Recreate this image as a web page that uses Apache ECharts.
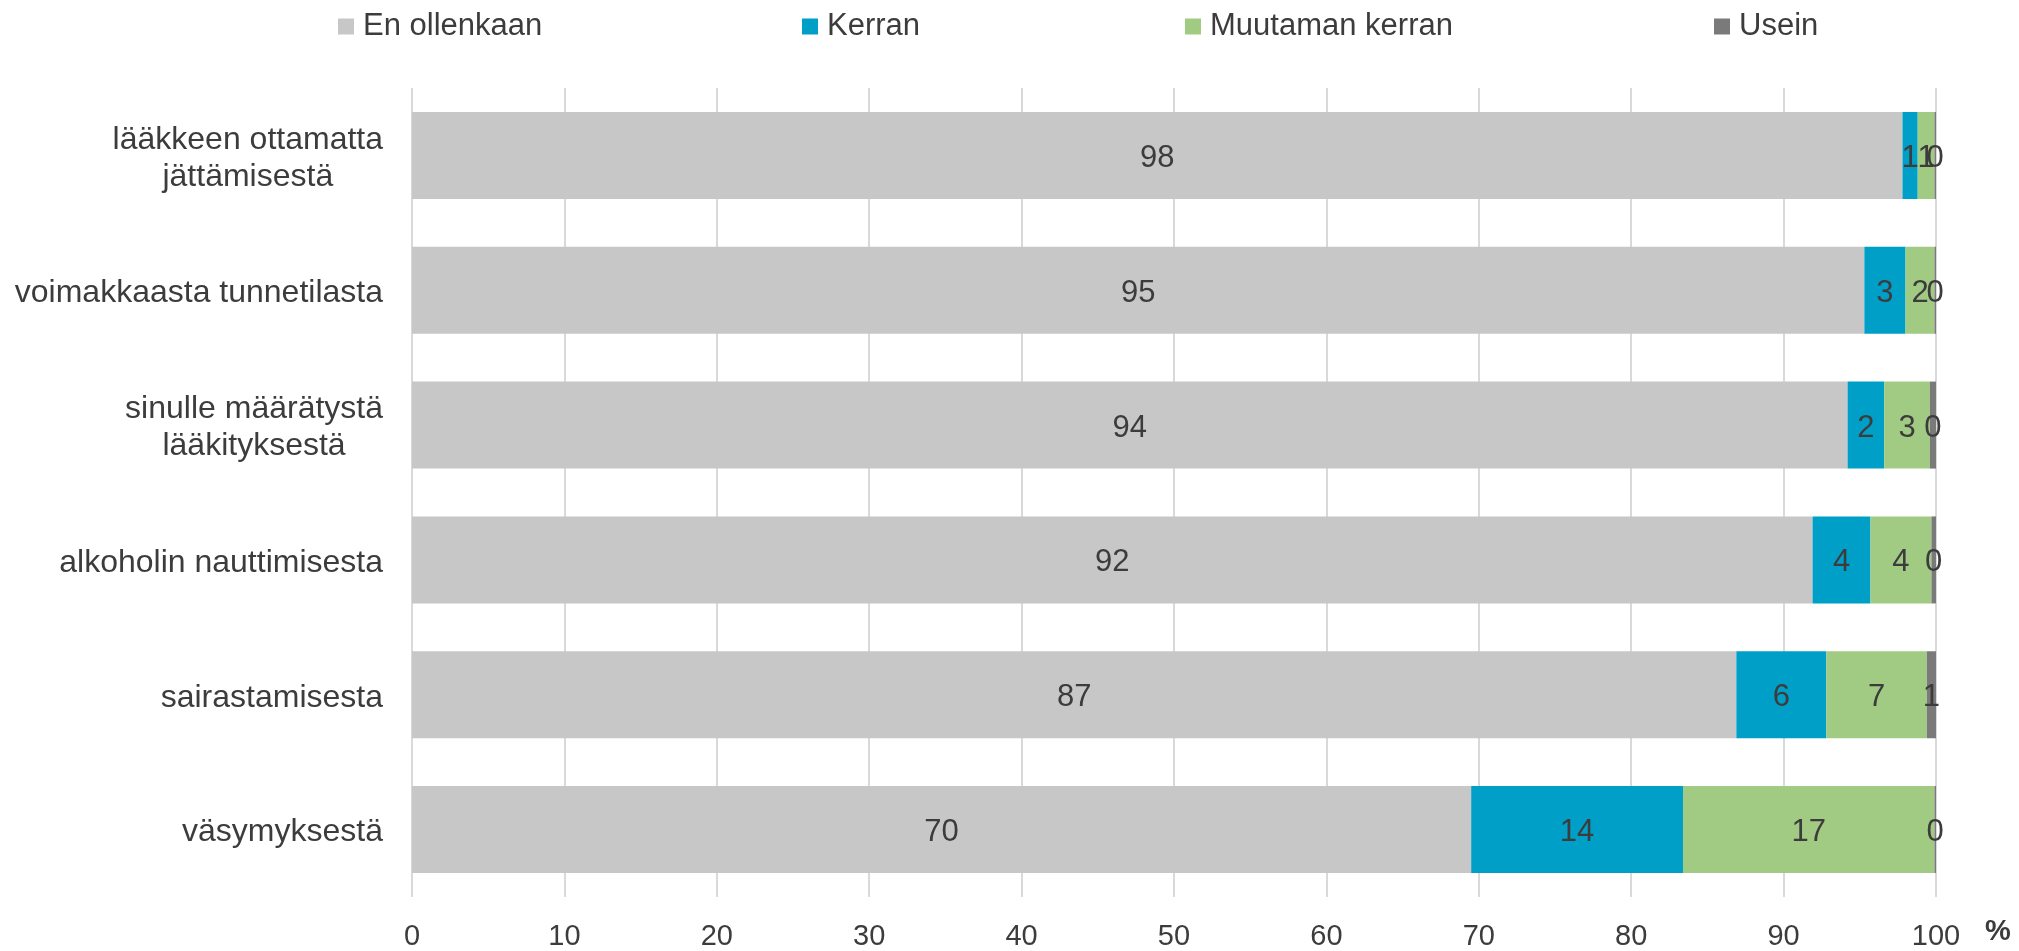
<!DOCTYPE html>
<html>
<head>
<meta charset="utf-8">
<script src="https://cdn.jsdelivr.net/npm/echarts@6/dist/echarts.min.js"></script>
<style>
  html, body { margin: 0; padding: 0; background: #fff; }
  #chart { width: 2019px; height: 951px; }
</style>
</head>
<body>
<div id="chart"></div>
<script>
  // data (percent)
  var categories = [
    'lääkkeen ottamatta\njättämisestä',
    'voimakkaasta tunnetilasta',
    'sinulle määrätystä\nlääkityksestä',
    'alkoholin nauttimisesta',
    'sairastamisesta',
    'väsymyksestä'
  ];
  var seriesNames = ['En ollenkaan', 'Kerran', 'Muutaman kerran', 'Usein'];
  var enOllenkaan = [97.8, 95.3, 94.2, 91.9, 86.9, 69.5];
  var kerran = [1.0, 2.7, 2.4, 3.8, 5.9, 13.9];
  var muutamanKerran = [1.1, 1.9, 3.0, 4.0, 6.6, 16.5];
  var usein = [0.1, 0.1, 0.4, 0.3, 0.6, 0.1];
  var xTicks = [0, 10, 20, 30, 40, 50, 60, 70, 80, 90, 100];

  var colors = ['#c7c7c7', '#009fc8', '#a1cb83', '#7a7a7a'];
  var textColor = '#3c3c3c';
  var font = 'Arial, "Liberation Sans", sans-serif';
  var legendLeft = [338, 802, 1185, 1714];

  var values = [enOllenkaan, kerran, muutamanKerran, usein];

  var chart = echarts.init(document.getElementById('chart'));

  var option = {
    backgroundColor: '#fff',
    animation: false,
    textStyle: { fontFamily: font },
    // one legend per item so each can sit where the original has it
    legend: seriesNames.map(function (n, i) {
      return {
        data: [n],
        left: legendLeft[i],
        top: 11,
        padding: 0,
        icon: 'rect',
        itemWidth: 16,
        itemHeight: 16,
        selectedMode: false,
        textStyle: {
          fontFamily: font,
          fontSize: 31,
          color: textColor,
          padding: [0, 0, 0, 4]
        }
      };
    }),
    grid: { left: 412, right: 83, top: 88, bottom: 51, containLabel: false },
    xAxis: {
      type: 'value',
      min: 0,
      max: 100,
      interval: 10,
      name: '%',
      nameLocation: 'end',
      nameGap: 49,
      nameTextStyle: {
        fontSize: 29,
        fontWeight: 'bold',
        color: textColor,
        verticalAlign: 'top',
        padding: [20, 0, 0, 0]
      },
      axisLine: { show: false },
      axisTick: { show: false },
      splitLine: { show: true, lineStyle: { color: '#cdcdcd', width: 1.5 } },
      axisLabel: {
        fontSize: 29,
        color: textColor,
        margin: 25,
        customValues: xTicks
      }
    },
    yAxis: {
      type: 'category',
      data: categories,
      inverse: true,
      axisLine: { show: false },
      axisTick: { show: false },
      axisLabel: {
        align: 'right',
        margin: 29,
        color: textColor,
        padding: [6, 0, 0, 0],
        formatter: function (v) {
          return v.split('\n').map(function (s) { return '{c|' + s + '}'; }).join('\n');
        },
        rich: {
          c: { align: 'center', fontSize: 32, lineHeight: 37, color: textColor, fontFamily: font }
        }
      }
    },
    series: seriesNames.map(function (n, i) {
      return {
        name: n,
        type: 'bar',
        stack: 'total',
        barWidth: 87,
        data: values[i],
        itemStyle: { color: colors[i] },
        label: {
          show: true,
          position: 'inside',
          offset: [0, 3],
          fontSize: 31,
          color: textColor,
          formatter: function (p) { return Math.round(p.value); }
        },
        emphasis: { disabled: true }
      };
    })
  };

  chart.setOption(option);
</script>
</body>
</html>
